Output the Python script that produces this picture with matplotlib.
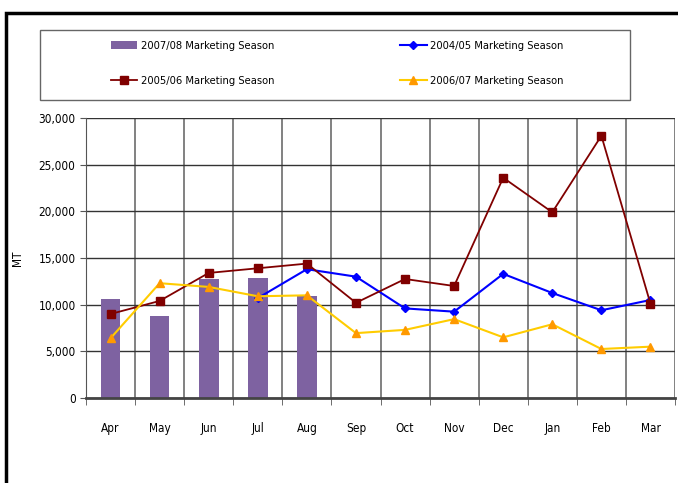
import matplotlib
matplotlib.use('Agg')
from matplotlib import pyplot as plt
from matplotlib.patches import Rectangle
import numpy as np

months = ['Apr', 'May', 'Jun', 'Jul', 'Aug', 'Sep', 'Oct', 'Nov', 'Dec', 'Jan', 'Feb', 'Mar']

season_0708 = [10600, 8800, 12750, 12850, 10900]
season_0405 = [None, None, None, 10700, 13800, 13000, 9600, 9250, 13300, 11250, 9400, 10500]
season_0506 = [9000, 10400, 13400, 13900, 14400, 10200, 12750, 12000, 23600, 19900, 28100, 10100]
season_0607 = [6400, 12300, 11900, 10900, 11000, 6950, 7300, 8450, 6500, 7900, 5250, 5500]

plt.rcParams['font.family'] = ['DejaVu Sans']
plt.rcParams['font.stretch'] = 'condensed'

W, H = 678, 483
fig = plt.figure(figsize=(W / 100, H / 100), dpi=100)
fig.set_facecolor('white')

# outer frame
fig.patches.append(Rectangle((6 / W, -0.1), 1.2, 1 - 13 / H + 0.1, transform=fig.transFigure,
                             fill=False, edgecolor='black', linewidth=2.5))
# legend frame
fig.patches.append(Rectangle((40 / W, 1 - 100 / H), 590 / W, 70 / H, transform=fig.transFigure,
                             fill=False, edgecolor='#666666', linewidth=1))

ax = fig.add_axes([86 / W, 1 - 398 / H, 589 / W, 280 / H])

x = np.arange(len(months))
bars = ax.bar(x[:len(season_0708)], season_0708, width=0.4, color='#7E62A1', zorder=2,
              label='2007/08 Marketing Season')

y0405 = np.array([np.nan if v is None else v for v in season_0405], dtype=float)
l1, = ax.plot(x, y0405, color='#0000FF', marker='D', markersize=4, linewidth=1.5, zorder=3,
              label='2004/05 Marketing Season')
l2, = ax.plot(x, season_0506, color='#800000', marker='s', markersize=6, linewidth=1.3, zorder=3,
              label='2005/06 Marketing Season')
l3, = ax.plot(x, season_0607, color='#FFCC00', marker='^', markersize=6, markerfacecolor='#FF9900',
              markeredgecolor='#FF9900', linewidth=1.5, zorder=3, label='2006/07 Marketing Season')

ax.set_xlim(-0.5, 11.5)
ax.set_ylim(0, 30000)
ax.set_yticks(np.arange(0, 30001, 5000))
ax.set_yticklabels(['{:,}'.format(v) for v in range(0, 30001, 5000)], fontsize=8.5)
ax.set_xticks(x)
ax.set_xticklabels(months, fontsize=8.5)
ax.set_xticks(np.arange(-0.5, 12, 1), minor=True)
ax.tick_params(axis='x', which='major', length=0, pad=17)
ax.tick_params(axis='x', which='minor', length=5, direction='out', color='#555555')
ax.tick_params(axis='y', length=4, color='#555555')
ax.grid(True, axis='y', color='#333333', linewidth=1, zorder=0)
ax.grid(True, axis='x', which='minor', color='#777777', linewidth=1.3, zorder=0)
for s in ['top', 'right']:
    ax.spines[s].set_visible(False)
ax.spines['left'].set_color('#555555')
ax.spines['bottom'].set_color('#444444')
ax.spines['bottom'].set_linewidth(2)
ax.set_ylabel('MT', fontsize=8.5)
ax.yaxis.set_label_coords(-62 / 589, 0.5)

# column-wise fill: col 1 = 2007/08, 2005/06; col 2 = 2004/05, 2006/07
handles = [bars, l2, l1, l3]
leg = fig.legend(handles, [h.get_label() for h in handles], ncol=2, loc='upper left',
                 bbox_to_anchor=(104 / W, 1 - 104 / H, 466 / W, 70 / H), mode='expand',
                 fontsize=8, frameon=False, borderaxespad=0, labelspacing=2.3,
                 handlelength=2.4, handletextpad=0.3, borderpad=0.6)

fig.savefig('out.png', dpi=100)
